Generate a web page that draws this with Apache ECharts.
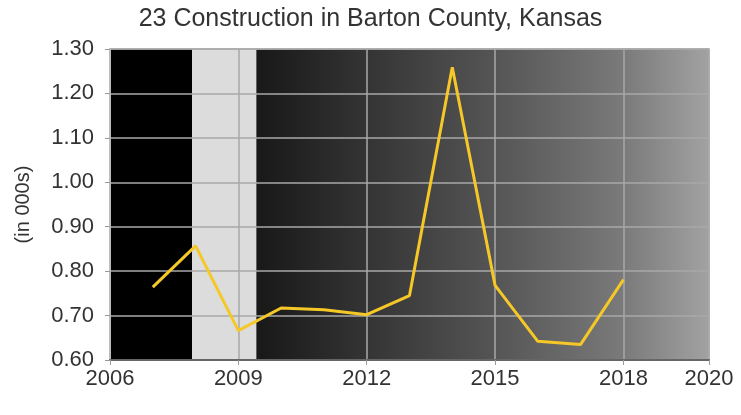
<!DOCTYPE html>
<html>
<head>
<meta charset="utf-8">
<script src="https://cdn.jsdelivr.net/npm/echarts@6/dist/echarts.min.js"></script>
<style>
html,body{margin:0;padding:0;background:#fff;}
#chart{width:741px;height:415px;}
</style>
</head>
<body>
<div id="chart"></div>
<script>
var title = '23 Construction in Barton County, Kansas';
var yAxisName = '(in 000s)';
var years = [2007, 2008, 2009, 2010, 2011, 2012, 2013, 2014, 2015, 2016, 2017, 2018];
var values = [0.764, 0.857, 0.666, 0.717, 0.713, 0.702, 0.745, 1.259, 0.768, 0.642, 0.635, 0.781];
var xMin = 2006, xMax = 2020, xStep = 3;
var yMin = 0.6, yMax = 1.3, yStep = 0.1;
// background bands: [start, end]
var blackBand = [2006, 2007.92];
var recessionBand = [2007.92, 2009.42];
var gradientBand = [2009.42, 2020];

var FONT = 'Liberation Sans, Arial, sans-serif';
var chart = echarts.init(document.getElementById('chart'));
chart.setOption({
  animation: false,
  title: {
    text: title, left: 'center', top: 2,
    textStyle: {fontFamily: FONT, fontSize: 25, fontWeight: 'normal', color: '#333'}
  },
  grid: {left: 110, right: 32, top: 49, bottom: 55, show: true, borderColor: '#aaa', borderWidth: 1.5, backgroundColor: 'transparent', z: 2},
  xAxis: {
    type: 'value', min: xMin, max: xMax, interval: xStep, z: 2,
    axisLine: {show: true, lineStyle: {color: '#666', width: 2}},
    axisTick: {show: true, length: 5, lineStyle: {color: '#999'}},
    splitLine: {show: true, lineStyle: {color: '#a8a8a8', width: 1.5}},
    axisLabel: {color: '#333', fontSize: 22, fontFamily: FONT, margin: 8,
      formatter: function (v) { return String(v); }}
  },
  yAxis: {
    type: 'value', min: yMin, max: yMax, interval: yStep, z: 2,
    name: yAxisName, nameLocation: 'middle', nameGap: 77, nameRotate: 90,
    nameTextStyle: {color: '#333', fontSize: 20, fontFamily: FONT},
    axisLine: {show: true, lineStyle: {color: '#bbb', width: 2}},
    axisTick: {show: true, length: 5, lineStyle: {color: '#999'}},
    splitLine: {show: true, lineStyle: {color: '#a8a8a8', width: 1.5}},
    axisLabel: {color: '#333', fontSize: 22, fontFamily: FONT, margin: 16,
      formatter: function (v) { return v.toFixed(2); }}
  },
  series: [
    {
      type: 'line', data: [], z: 0, silent: true,
      markArea: {
        silent: true, z: 0,
        data: [
          [{xAxis: blackBand[0], itemStyle: {color: '#000'}}, {xAxis: blackBand[1]}],
          [{xAxis: recessionBand[0], itemStyle: {color: '#dcdcdc'}}, {xAxis: recessionBand[1]}],
          [{xAxis: gradientBand[0], itemStyle: {color: new echarts.graphic.LinearGradient(0, 0, 1, 0, [
            {offset: 0, color: '#181818'},
            {offset: 0.244, color: '#343434'},
            {offset: 0.527, color: '#555555'},
            {offset: 0.811, color: '#7a7a7a'},
            {offset: 1, color: '#a2a2a2'}])}}, {xAxis: gradientBand[1]}]
        ]
      }
    },
    {
      type: 'line', z: 5,
      data: years.map(function (y, i) { return [y, values[i]]; }),
      symbol: 'none', lineStyle: {color: '#f5c827', width: 3}
    }
  ]
});
</script>
</body>
</html>
